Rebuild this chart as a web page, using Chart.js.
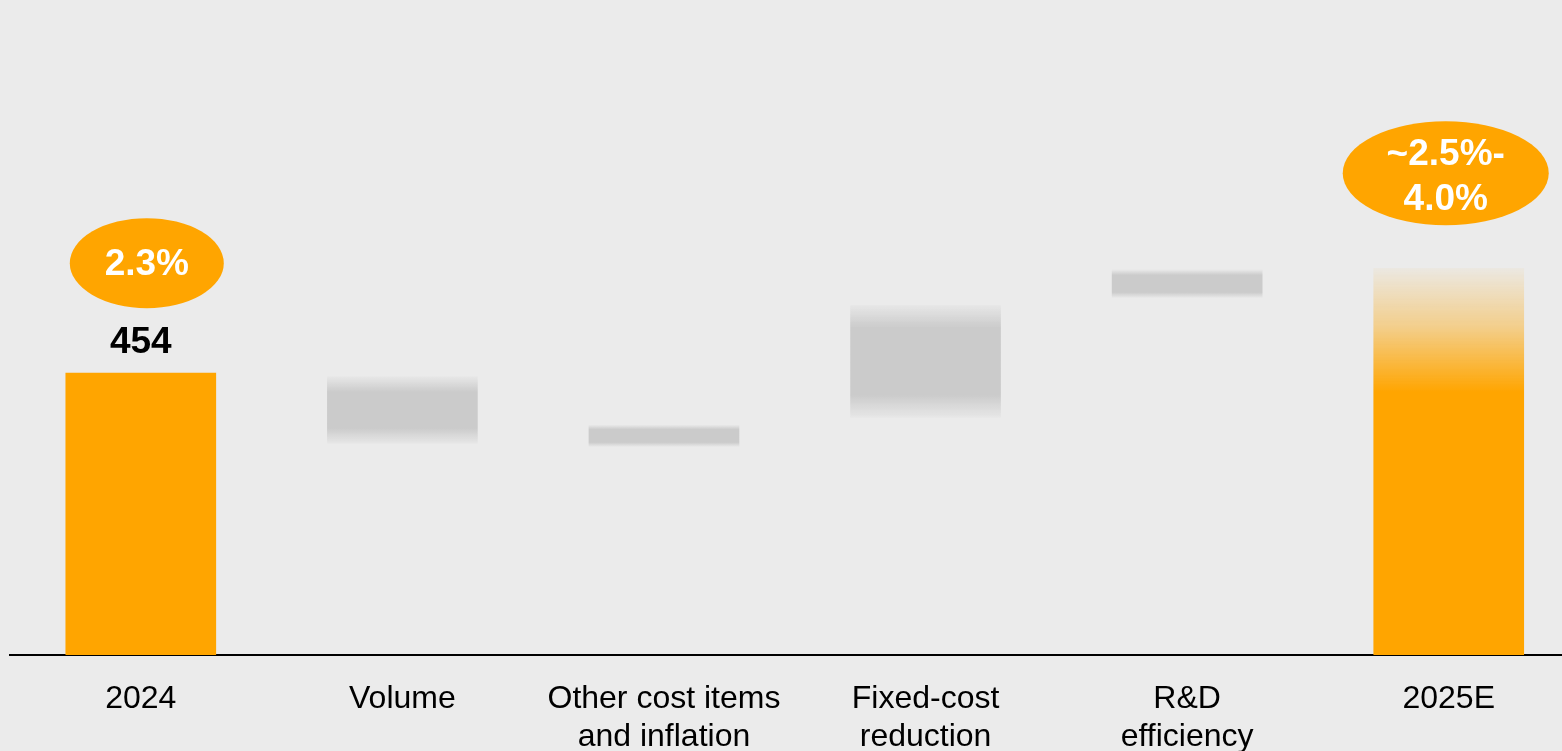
<!DOCTYPE html>
<html>
  <head>
    <title>Margin bridge 2024 to 2025E</title>
    <meta charset="utf-8">
    <style>
      html, body { margin: 0; padding: 0; background: #ebebeb; overflow: hidden; }
      #wrap { width: 1562px; height: 760px; position: relative; }
    </style>
  </head>
  <body>
    <div id="wrap">
      <canvas id="bridgeChart"></canvas>
    </div>

    <script src="https://cdn.jsdelivr.net/npm/chart.js"></script>
    <script>
      // categories and values (floating bars: low / high)
      var categories = ['2024', 'Volume', ['Other cost items', 'and inflation'], ['Fixed-cost', 'reduction'], ['R&D', 'efficiency'], '2025E'];
      var lows  = [0,   341, 336, 383, 576, 0];
      var highs = [454, 448, 370, 563, 620, 623];
      var valueLabels = ['454', '', '', '', '', ''];
      var bubbleLabels = [['2.3%'], null, null, null, null, ['~2.5%-', '4.0%']];

      // styling per bar
      var barKind = ['total', 'step', 'step', 'step', 'step', 'estimate'];
      var fadePx = [0, 15, 4, 22, 5, 0];
      var bubbleStyle = {
        0: { dx: 6, dy: 110, rx: 77, ry: 45, ty: 2 },
        5: { dx: -3, dy: 95, rx: 103, ry: 52, ty: 4 }
      };

      var ORANGE = '#ffa500';
      var GREY = '#cbcbcb';
      var BOLD = 'bold 37px "Liberation Sans", Arial, sans-serif';

      function barColor(ctx) {
        var chart = ctx.chart;
        if (!chart.chartArea) return GREY;
        var i = ctx.dataIndex;
        var ys = chart.scales.y;
        var top = ys.getPixelForValue(highs[i]);
        var bot = ys.getPixelForValue(lows[i]);
        var h = bot - top;
        if (barKind[i] == 'total') return ORANGE;
        var g = chart.ctx.createLinearGradient(0, top, 0, bot);
        if (barKind[i] == 'estimate') {
          g.addColorStop(0, 'rgba(255,165,0,0.04)');
          g.addColorStop(0.15, 'rgba(255,165,0,0.4)');
          g.addColorStop(0.32, 'rgba(255,165,0,1)');
          g.addColorStop(1, 'rgba(255,165,0,1)');
          return g;
        }
        var f = Math.min(fadePx[i] / h, 0.45);
        g.addColorStop(0, 'rgba(203,203,203,0.12)');
        g.addColorStop(f, 'rgba(203,203,203,1)');
        g.addColorStop(1 - f, 'rgba(203,203,203,1)');
        g.addColorStop(1, 'rgba(203,203,203,0.12)');
        return g;
      }

      var labelsPlugin = {
        id: 'bridgeLabels',
        afterDatasetsDraw: function (chart) {
          var ctx = chart.ctx;
          var xs = chart.scales.x;
          var ys = chart.scales.y;
          ctx.save();
          ctx.textAlign = 'center';
          ctx.textBaseline = 'middle';
          ctx.font = BOLD;
          for (var i = 0; i < categories.length; i++) {
            var cx = xs.getPixelForValue(i);
            var top = ys.getPixelForValue(highs[i]);
            if (valueLabels[i]) {
              ctx.fillStyle = '#000';
              ctx.fillText(valueLabels[i], cx, top - 30);
            }
            if (bubbleLabels[i]) {
              var s = bubbleStyle[i];
              var bx = cx + s.dx, by = top - s.dy;
              ctx.fillStyle = ORANGE;
              ctx.beginPath();
              ctx.ellipse(bx, by, s.rx, s.ry, 0, 0, Math.PI * 2);
              ctx.fill();
              ctx.fillStyle = '#fff';
              var lines = bubbleLabels[i];
              var lh = 45;
              for (var k = 0; k < lines.length; k++) {
                ctx.fillText(lines[k], bx, by + s.ty + (k - (lines.length - 1) / 2) * lh);
              }
            }
          }
          ctx.restore();
        }
      };

      var config = {
        type: 'bar',
        data: {
          datasets: [{
            data: categories.map(function (c, i) { return { x: i, y: [lows[i], highs[i]] }; }),
            backgroundColor: barColor,
            borderWidth: 0,
            barThickness: 150
          }]
        },
        options: {
          responsive: true,
          maintainAspectRatio: false,
          animation: false,
          layout: { padding: { left: 10, right: 0, top: 0, bottom: 0 } },
          scales: {
            x: {
              type: 'linear',
              offset: false,
              min: -0.5,
              max: 5.433,
              afterBuildTicks: function (scale) {
                scale.ticks = categories.map(function (c, i) { return { value: i }; });
              },
              afterFit: function (scale) { scale.height = 105; },
              grid: { display: false, drawTicks: false },
              border: { display: true, color: '#000', width: 2 },
              ticks: {
                padding: 25,
                color: '#000',
                maxRotation: 0,
                autoSkip: false,
                font: { family: '"Liberation Sans", Arial, sans-serif', size: 32, lineHeight: 1.2 },
                callback: function (v) { return categories[v]; }
              }
            },
            y: {
              display: false,
              min: 0,
              max: 1055
            }
          },
          plugins: {
            legend: { display: false },
            tooltip: { enabled: false }
          }
        },
        plugins: [labelsPlugin]
      };

      var bridgeChart = new Chart(document.getElementById('bridgeChart'), config);
    </script>
  </body>
</html>
